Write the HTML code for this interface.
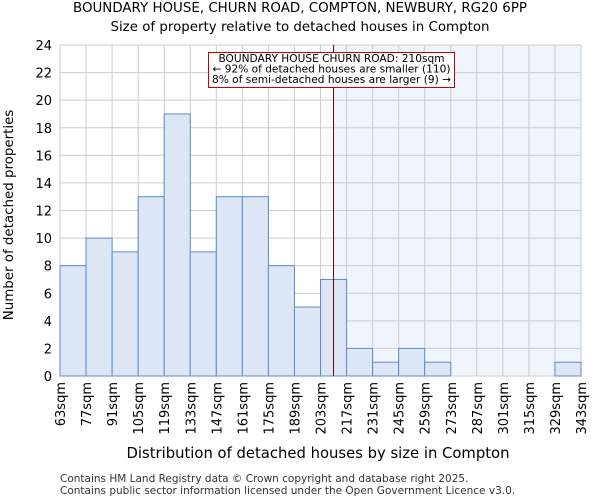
<!DOCTYPE html>
<html><head><meta charset="utf-8"><style>
body{margin:0;background:#fff;font-family:"DejaVu Sans","Liberation Sans",sans-serif}
</style></head><body>
<svg id="c" width="600" height="500" xmlns="http://www.w3.org/2000/svg" font-family="DejaVu Sans, Liberation Sans, sans-serif">
<text x="300" y="12" text-anchor="middle" font-size="13.4">BOUNDARY HOUSE, CHURN ROAD, COMPTON, NEWBURY, RG20 6PP</text>
<text x="300" y="31" text-anchor="middle" font-size="13.4">Size of property relative to detached houses in Compton</text>
<text x="318" y="458" text-anchor="middle" font-size="14.8">Distribution of detached houses by size in Compton</text>
<text transform="translate(13,215) rotate(-90)" text-anchor="middle" font-size="13.4">Number of detached properties</text>
<text x="60" y="482" font-size="10.5" fill="#333">Contains HM Land Registry data © Crown copyright and database right 2025.</text>
<text x="60" y="494" font-size="10.5" fill="#333">Contains public sector information licensed under the Open Government Licence v3.0.</text>
<g id="plot"></g>
</svg>
<script>
const binStarts=[63,77,91,105,119,133,147,161,175,189,203,217,231,245,259,273,287,301,315,329];
const counts=[8,10,9,13,19,9,13,13,8,5,7,2,1,2,1,0,0,0,0,1];
const yTicks=[0,2,4,6,8,10,12,14,16,18,20,22,24];
const xTickLabels=[63,77,91,105,119,133,147,161,175,189,203,217,231,245,259,273,287,301,315,329,343];
const propertySize=210;
const NS="http://www.w3.org/2000/svg";
const L=60,R=581,T=45,B=376,xmin=63,xmax=343,ymax=24;
const X=v=>L+(v-xmin)/(xmax-xmin)*(R-L);
const Y=v=>B-v/ymax*(B-T);
const g=document.getElementById('plot');
function mk(t,a){const e=document.createElementNS(NS,t);for(const k in a)e.setAttribute(k,a[k]);g.appendChild(e);return e;}
let e=mk('rect',{x:X(propertySize),y:T,width:R-X(propertySize),height:B-T,fill:'#f0f4fc'});


yTicks.forEach(v=>{
 let l=mk('line',{x1:L,x2:R,y1:Y(v),y2:Y(v),stroke:'#ccc','stroke-width':1});
 
 
 let t=mk('text',{x:L-8,y:Y(v)+5,'text-anchor':'end','font-size':13});
 t.textContent=v;
 
 
});
xTickLabels.forEach(v=>{
 let l=mk('line',{x1:X(v),x2:X(v),y1:T,y2:B,stroke:'#ccc','stroke-width':1});
 
 
 let t=mk('text',{transform:`translate(${X(v)+5},${B+6}) rotate(-90)`,'text-anchor':'end','font-size':13});
 t.textContent=v+'sqm';
 
 
});
binStarts.forEach((s,i)=>{
 if(!counts[i])return;
 let r=mk('rect',{x:X(s),y:Y(counts[i]),width:X(s+14)-X(s),height:B-Y(counts[i]),fill:'#dce6f4',stroke:'#5b8bd0','stroke-width':1});
 
 
});
let vl=mk('line',{x1:X(propertySize),x2:X(propertySize),y1:T,y2:B,stroke:'#800000','stroke-width':1});


let ab=mk('rect',{x:208.5,y:52.5,width:246,height:35,fill:'#fff',stroke:'#c00','stroke-width':1});


["BOUNDARY HOUSE CHURN ROAD: 210sqm","← 92% of detached houses are smaller (110)","8% of semi-detached houses are larger (9) →"].forEach((s,i)=>{
 let t=mk('text',{x:331.5,y:62+i*10.5,'text-anchor':'middle','font-size':10.6});
 t.textContent=s;
 
 
});
</script>
</body></html>
